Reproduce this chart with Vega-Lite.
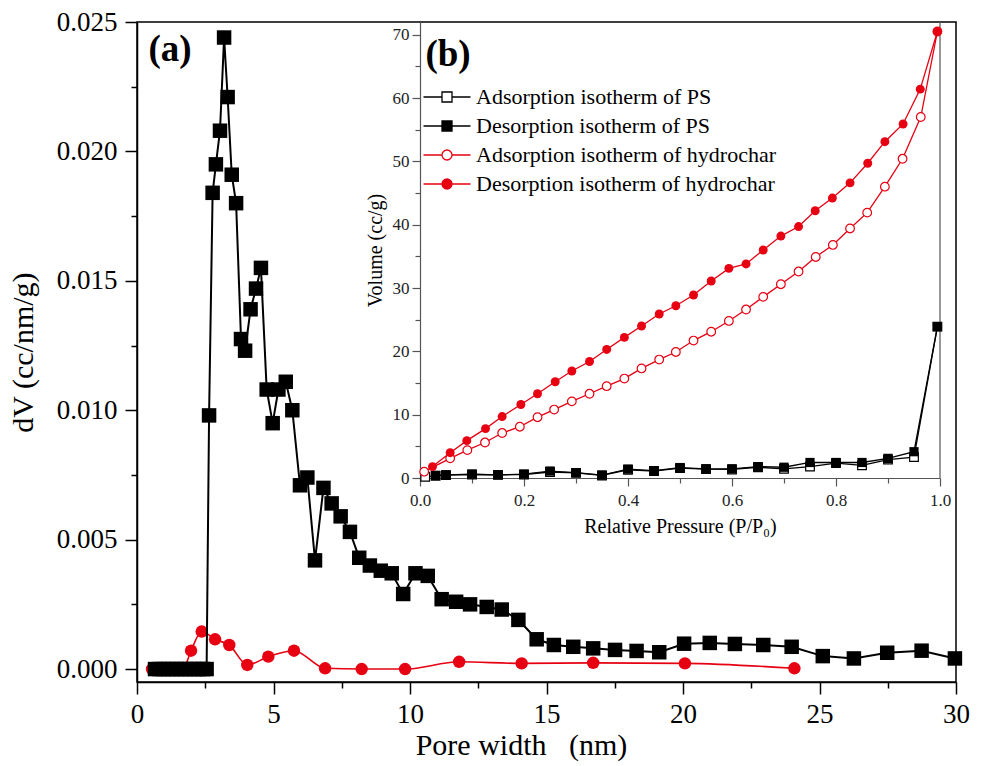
{
  "$schema": "https://vega.github.io/schema/vega-lite/v6.json",
  "width": 819,
  "height": 660,
  "autosize": {"type": "none"},
  "padding": {"left": 137, "top": 22, "right": 28, "bottom": 84},
  "background": "white",
  "config": {
    "font": "Liberation Serif",
    "text": {"font": "Liberation Serif"},
    "view": {"stroke": "black", "strokeWidth": 1.5},
    "axis": {"grid": false, "domainColor": "black", "tickColor": "black", "labelColor": "black", "titleColor": "black", "titleFontWeight": "normal", "labelFont": "Liberation Serif", "titleFont": "Liberation Serif", "labelOverlap": false, "labelFlush": false},
    "legend": {"labelFont": "Liberation Serif", "titleFont": "Liberation Serif"}
  },
  "datasets": {
    "psd_ps": [
      {"width": 0.66, "dV": 0}, {"width": 0.82, "dV": 0}, {"width": 0.98, "dV": 0}, {"width": 1.14, "dV": 0},
      {"width": 1.3, "dV": 0}, {"width": 1.46, "dV": 0}, {"width": 1.62, "dV": 0}, {"width": 1.78, "dV": 0},
      {"width": 1.94, "dV": 0}, {"width": 2.1, "dV": 0}, {"width": 2.26, "dV": 0}, {"width": 2.42, "dV": 0},
      {"width": 2.55, "dV": 0},
      {"width": 2.64, "dV": 0.0098}, {"width": 2.77, "dV": 0.0184}, {"width": 2.89, "dV": 0.0195},
      {"width": 3.04, "dV": 0.0208}, {"width": 3.19, "dV": 0.0244}, {"width": 3.32, "dV": 0.0221},
      {"width": 3.47, "dV": 0.0191}, {"width": 3.63, "dV": 0.018}, {"width": 3.81, "dV": 0.01275},
      {"width": 3.96, "dV": 0.0123}, {"width": 4.16, "dV": 0.0139}, {"width": 4.36, "dV": 0.0147},
      {"width": 4.54, "dV": 0.0155}, {"width": 4.75, "dV": 0.0108}, {"width": 4.97, "dV": 0.0095},
      {"width": 5.18, "dV": 0.0108}, {"width": 5.45, "dV": 0.0111}, {"width": 5.69, "dV": 0.01},
      {"width": 5.97, "dV": 0.0071}, {"width": 6.24, "dV": 0.0074}, {"width": 6.52, "dV": 0.0042},
      {"width": 6.83, "dV": 0.007}, {"width": 7.13, "dV": 0.0064}, {"width": 7.46, "dV": 0.0059},
      {"width": 7.8, "dV": 0.0053}, {"width": 8.14, "dV": 0.0043}, {"width": 8.53, "dV": 0.004},
      {"width": 8.93, "dV": 0.0038}, {"width": 9.33, "dV": 0.0037}, {"width": 9.75, "dV": 0.0029},
      {"width": 10.2, "dV": 0.0037}, {"width": 10.65, "dV": 0.0036}, {"width": 11.16, "dV": 0.0027},
      {"width": 11.69, "dV": 0.0026}, {"width": 12.2, "dV": 0.0025}, {"width": 12.81, "dV": 0.0024},
      {"width": 13.36, "dV": 0.0023}, {"width": 13.97, "dV": 0.0019}, {"width": 14.64, "dV": 0.00115},
      {"width": 15.27, "dV": 0.00093}, {"width": 15.98, "dV": 0.00086}, {"width": 16.71, "dV": 0.0008},
      {"width": 17.51, "dV": 0.00074}, {"width": 18.3, "dV": 0.0007}, {"width": 19.13, "dV": 0.00065},
      {"width": 20.04, "dV": 0.00098}, {"width": 20.98, "dV": 0.00101}, {"width": 21.9, "dV": 0.00097},
      {"width": 22.94, "dV": 0.00093}, {"width": 23.98, "dV": 0.00086}, {"width": 25.12, "dV": 0.0005},
      {"width": 26.26, "dV": 0.00041}, {"width": 27.48, "dV": 0.00063}, {"width": 28.74, "dV": 0.00071},
      {"width": 29.96, "dV": 0.00041}
    ],
    "psd_hc": [
      {"width": 0.55, "dV": 0}, {"width": 0.85, "dV": 0}, {"width": 1.15, "dV": 0}, {"width": 1.45, "dV": 0},
      {"width": 1.7, "dV": 0.00003}, {"width": 1.98, "dV": 0.00071}, {"width": 2.37, "dV": 0.00145},
      {"width": 2.86, "dV": 0.00115}, {"width": 3.38, "dV": 0.00093}, {"width": 4.04, "dV": 0.00016},
      {"width": 4.81, "dV": 0.00048}, {"width": 5.75, "dV": 0.00071}, {"width": 6.89, "dV": 0.00003},
      {"width": 8.23, "dV": 0}, {"width": 9.82, "dV": 0}, {"width": 11.8, "dV": 0.00028},
      {"width": 14.09, "dV": 0.00022}, {"width": 16.71, "dV": 0.00024}, {"width": 20.07, "dV": 0.00022},
      {"width": 24.08, "dV": 0.00003}
    ],
    "labels": [
      {"panel": "a", "label": "(a)", "x": 1.21, "y": 0.0239},
      {"panel": "b", "label": "(b)", "x": 0.054, "y": 66.8}
    ],
    "iso": [
      {"series": "Adsorption isotherm of PS", "p": 0.01, "v": 0.2},
      {"series": "Adsorption isotherm of PS", "p": 0.03, "v": 0.35},
      {"series": "Adsorption isotherm of PS", "p": 0.05, "v": 0.45},
      {"series": "Adsorption isotherm of PS", "p": 0.1, "v": 0.55},
      {"series": "Adsorption isotherm of PS", "p": 0.15, "v": 0.5},
      {"series": "Adsorption isotherm of PS", "p": 0.2, "v": 0.55},
      {"series": "Adsorption isotherm of PS", "p": 0.25, "v": 0.95},
      {"series": "Adsorption isotherm of PS", "p": 0.3, "v": 0.8},
      {"series": "Adsorption isotherm of PS", "p": 0.35, "v": 0.4},
      {"series": "Adsorption isotherm of PS", "p": 0.4, "v": 1.3},
      {"series": "Adsorption isotherm of PS", "p": 0.45, "v": 1.1},
      {"series": "Adsorption isotherm of PS", "p": 0.5, "v": 1.55},
      {"series": "Adsorption isotherm of PS", "p": 0.55, "v": 1.4},
      {"series": "Adsorption isotherm of PS", "p": 0.6, "v": 1.35},
      {"series": "Adsorption isotherm of PS", "p": 0.65, "v": 1.7},
      {"series": "Adsorption isotherm of PS", "p": 0.7, "v": 1.45},
      {"series": "Adsorption isotherm of PS", "p": 0.75, "v": 1.8},
      {"series": "Adsorption isotherm of PS", "p": 0.8, "v": 2.35},
      {"series": "Adsorption isotherm of PS", "p": 0.85, "v": 2.0},
      {"series": "Adsorption isotherm of PS", "p": 0.9, "v": 2.9},
      {"series": "Adsorption isotherm of PS", "p": 0.95, "v": 3.3},
      {"series": "Adsorption isotherm of PS", "p": 0.995, "v": 23.9},
      {"series": "Desorption isotherm of PS", "p": 0.995, "v": 23.9},
      {"series": "Desorption isotherm of PS", "p": 0.95, "v": 4.15},
      {"series": "Desorption isotherm of PS", "p": 0.9, "v": 3.1},
      {"series": "Desorption isotherm of PS", "p": 0.85, "v": 2.45},
      {"series": "Desorption isotherm of PS", "p": 0.8, "v": 2.45},
      {"series": "Desorption isotherm of PS", "p": 0.75, "v": 2.45},
      {"series": "Desorption isotherm of PS", "p": 0.7, "v": 1.7},
      {"series": "Desorption isotherm of PS", "p": 0.65, "v": 1.8},
      {"series": "Desorption isotherm of PS", "p": 0.6, "v": 1.45},
      {"series": "Desorption isotherm of PS", "p": 0.55, "v": 1.45},
      {"series": "Desorption isotherm of PS", "p": 0.5, "v": 1.65},
      {"series": "Desorption isotherm of PS", "p": 0.45, "v": 1.15},
      {"series": "Desorption isotherm of PS", "p": 0.4, "v": 1.4},
      {"series": "Desorption isotherm of PS", "p": 0.35, "v": 0.45},
      {"series": "Desorption isotherm of PS", "p": 0.3, "v": 0.85},
      {"series": "Desorption isotherm of PS", "p": 0.25, "v": 1.1},
      {"series": "Desorption isotherm of PS", "p": 0.2, "v": 0.6},
      {"series": "Desorption isotherm of PS", "p": 0.15, "v": 0.5},
      {"series": "Desorption isotherm of PS", "p": 0.1, "v": 0.6},
      {"series": "Desorption isotherm of PS", "p": 0.05, "v": 0.5},
      {"series": "Desorption isotherm of PS", "p": 0.03, "v": 0.4},
      {"series": "Adsorption isotherm of hydrochar", "p": 0.008, "v": 1.0},
      {"series": "Adsorption isotherm of hydrochar", "p": 0.058, "v": 3.1},
      {"series": "Adsorption isotherm of hydrochar", "p": 0.091, "v": 4.4},
      {"series": "Adsorption isotherm of hydrochar", "p": 0.125, "v": 5.6},
      {"series": "Adsorption isotherm of hydrochar", "p": 0.158, "v": 7.1},
      {"series": "Adsorption isotherm of hydrochar", "p": 0.192, "v": 8.1},
      {"series": "Adsorption isotherm of hydrochar", "p": 0.226, "v": 9.6},
      {"series": "Adsorption isotherm of hydrochar", "p": 0.258, "v": 10.8},
      {"series": "Adsorption isotherm of hydrochar", "p": 0.292, "v": 12.1},
      {"series": "Adsorption isotherm of hydrochar", "p": 0.326, "v": 13.3},
      {"series": "Adsorption isotherm of hydrochar", "p": 0.359, "v": 14.5},
      {"series": "Adsorption isotherm of hydrochar", "p": 0.393, "v": 15.7},
      {"series": "Adsorption isotherm of hydrochar", "p": 0.426, "v": 17.3},
      {"series": "Adsorption isotherm of hydrochar", "p": 0.46, "v": 18.7},
      {"series": "Adsorption isotherm of hydrochar", "p": 0.492, "v": 19.9},
      {"series": "Adsorption isotherm of hydrochar", "p": 0.526, "v": 21.7},
      {"series": "Adsorption isotherm of hydrochar", "p": 0.56, "v": 23.1},
      {"series": "Adsorption isotherm of hydrochar", "p": 0.594, "v": 24.8},
      {"series": "Adsorption isotherm of hydrochar", "p": 0.627, "v": 26.6},
      {"series": "Adsorption isotherm of hydrochar", "p": 0.66, "v": 28.6},
      {"series": "Adsorption isotherm of hydrochar", "p": 0.694, "v": 30.6},
      {"series": "Adsorption isotherm of hydrochar", "p": 0.728, "v": 32.6},
      {"series": "Adsorption isotherm of hydrochar", "p": 0.761, "v": 34.9},
      {"series": "Adsorption isotherm of hydrochar", "p": 0.794, "v": 36.8},
      {"series": "Adsorption isotherm of hydrochar", "p": 0.827, "v": 39.4},
      {"series": "Adsorption isotherm of hydrochar", "p": 0.86, "v": 41.9},
      {"series": "Adsorption isotherm of hydrochar", "p": 0.894, "v": 46.0},
      {"series": "Adsorption isotherm of hydrochar", "p": 0.928, "v": 50.4},
      {"series": "Adsorption isotherm of hydrochar", "p": 0.963, "v": 57.0},
      {"series": "Adsorption isotherm of hydrochar", "p": 0.995, "v": 70.5},
      {"series": "Desorption isotherm of hydrochar", "p": 0.995, "v": 70.5},
      {"series": "Desorption isotherm of hydrochar", "p": 0.962, "v": 61.4},
      {"series": "Desorption isotherm of hydrochar", "p": 0.929, "v": 55.9},
      {"series": "Desorption isotherm of hydrochar", "p": 0.894, "v": 53.1},
      {"series": "Desorption isotherm of hydrochar", "p": 0.861, "v": 49.7},
      {"series": "Desorption isotherm of hydrochar", "p": 0.827, "v": 46.6},
      {"series": "Desorption isotherm of hydrochar", "p": 0.793, "v": 44.2},
      {"series": "Desorption isotherm of hydrochar", "p": 0.76, "v": 42.2},
      {"series": "Desorption isotherm of hydrochar", "p": 0.728, "v": 39.7},
      {"series": "Desorption isotherm of hydrochar", "p": 0.694, "v": 38.2},
      {"series": "Desorption isotherm of hydrochar", "p": 0.66, "v": 36.0},
      {"series": "Desorption isotherm of hydrochar", "p": 0.627, "v": 33.8},
      {"series": "Desorption isotherm of hydrochar", "p": 0.594, "v": 33.1},
      {"series": "Desorption isotherm of hydrochar", "p": 0.56, "v": 31.1},
      {"series": "Desorption isotherm of hydrochar", "p": 0.526, "v": 28.9},
      {"series": "Desorption isotherm of hydrochar", "p": 0.492, "v": 27.2},
      {"series": "Desorption isotherm of hydrochar", "p": 0.46, "v": 25.9},
      {"series": "Desorption isotherm of hydrochar", "p": 0.426, "v": 24.0},
      {"series": "Desorption isotherm of hydrochar", "p": 0.393, "v": 22.2},
      {"series": "Desorption isotherm of hydrochar", "p": 0.359, "v": 20.3},
      {"series": "Desorption isotherm of hydrochar", "p": 0.326, "v": 18.4},
      {"series": "Desorption isotherm of hydrochar", "p": 0.292, "v": 16.9},
      {"series": "Desorption isotherm of hydrochar", "p": 0.26, "v": 15.2},
      {"series": "Desorption isotherm of hydrochar", "p": 0.226, "v": 13.3},
      {"series": "Desorption isotherm of hydrochar", "p": 0.194, "v": 11.6},
      {"series": "Desorption isotherm of hydrochar", "p": 0.158, "v": 9.7},
      {"series": "Desorption isotherm of hydrochar", "p": 0.126, "v": 7.8},
      {"series": "Desorption isotherm of hydrochar", "p": 0.09, "v": 5.9},
      {"series": "Desorption isotherm of hydrochar", "p": 0.058, "v": 4.0},
      {"series": "Desorption isotherm of hydrochar", "p": 0.024, "v": 1.8}
    ]
  },
  "resolve": {"scale": {"x": "independent", "y": "independent"}},
  "layer": [
    {
      "layer": [
        {"data": {"name": "psd_hc"}, "mark": {"type": "line", "color": "#e60012", "strokeWidth": 1.6, "interpolate": "monotone"},
          "encoding": {
            "x": {"field": "width", "type": "quantitative", "scale": {"domain": [0, 30], "nice": false, "zero": false},
              "axis": {"orient": "bottom", "values": [0, 5, 10, 15, 20, 25, 30], "title": "Pore width\u00a0\u00a0 (nm)", "titleFontSize": 30, "titleX": 384, "titleY": 72, "titleBaseline": "alphabetic", "titleAlign": "center", "labelFontSize": 27, "tickSize": 12, "tickWidth": 1.5, "domainWidth": 1.5, "labelPadding": 7}},
            "y": {"field": "dV", "type": "quantitative", "scale": {"domain": [-0.0005, 0.025], "nice": false, "zero": false},
              "axis": {"orient": "left", "values": [0, 0.005, 0.01, 0.015, 0.02, 0.025], "format": ".3f", "title": "dV (cc/nm/g)", "titleFontSize": 30, "titleX": -99, "titleBaseline": "bottom", "titleAlign": "center", "labelFontSize": 27, "tickSize": 12, "tickWidth": 1.5, "domainWidth": 1.5, "labelPadding": 8}}
          }},
        {"data": {"name": "psd_hc"}, "mark": {"type": "circle", "color": "#e60012", "size": 155, "opacity": 1},
          "encoding": {"x": {"field": "width", "type": "quantitative"}, "y": {"field": "dV", "type": "quantitative"}}},
        {"data": {"name": "psd_ps"}, "mark": {"type": "line", "color": "black", "strokeWidth": 2},
          "encoding": {"x": {"field": "width", "type": "quantitative"}, "y": {"field": "dV", "type": "quantitative"}}},
        {"data": {"name": "psd_ps"}, "mark": {"type": "square", "color": "black", "size": 210, "opacity": 1},
          "encoding": {"x": {"field": "width", "type": "quantitative"}, "y": {"field": "dV", "type": "quantitative"}}},
        {"data": {"name": "labels"}, "transform": [{"filter": "datum.panel == 'a'"}, {"calculate": "datum.x", "as": "width"}, {"calculate": "datum.y", "as": "dV"}],
          "mark": {"type": "text", "font": "Liberation Serif", "fontSize": 37, "fontWeight": "bold", "align": "center", "baseline": "middle", "color": "black"},
          "encoding": {"x": {"field": "width", "type": "quantitative"}, "y": {"field": "dV", "type": "quantitative"}, "text": {"field": "label"}}}
      ]
    },
    {
      "data": {"name": "psd_ps"},
      "mark": {"type": "point", "opacity": 0},
      "encoding": {
        "x": {"field": "width", "type": "quantitative", "scale": {"domain": [0, 30], "nice": false, "zero": false},
          "axis": {"orient": "bottom", "values": [2.5, 7.5, 12.5, 17.5, 22.5, 27.5], "labels": false, "domain": false, "title": null, "tickSize": 6, "tickWidth": 1.5}},
        "y": {"field": "dV", "type": "quantitative", "scale": {"domain": [-0.0005, 0.025], "nice": false, "zero": false},
          "axis": {"orient": "left", "values": [0.0025, 0.0075, 0.0125, 0.0175, 0.0225], "labels": false, "domain": false, "title": null, "tickSize": 6, "tickWidth": 1.5}}
      }
    },
    {
      "layer": [
        {"data": {"values": [{}]}, "mark": {"type": "rule", "color": "#555555", "strokeWidth": 1.2},
          "encoding": {
            "x": {"datum": 1, "type": "quantitative", "scale": {"domain": [0, 1], "range": [283, 803], "nice": false, "zero": false},
              "axis": {"orient": "bottom", "offset": -204, "values": [0, 0.2, 0.4, 0.6, 0.8, 1.0], "format": ".1f", "title": "Relative Pressure (P/P₀)", "titleFontSize": 20, "titleX": 543, "titleY": 54, "titleBaseline": "alphabetic", "titleAlign": "center", "labelFontSize": 17, "tickSize": 8, "tickWidth": 1.2, "domainWidth": 1.2, "domainColor": "#555555", "tickColor": "#555555", "labelColor": "#222222", "labelPadding": 6}},
            "y": {"datum": 0, "type": "quantitative", "scale": {"domain": [0, 72], "range": [456, 0], "nice": false, "zero": false},
              "axis": {"orient": "left", "offset": -283, "values": [0, 10, 20, 30, 40, 50, 60, 70], "title": "Volume (cc/g)", "titleFontSize": 20, "titleX": -35, "titleBaseline": "bottom", "titleAlign": "center", "labelFontSize": 17, "tickSize": 8, "tickWidth": 1.2, "domainWidth": 1.2, "domainColor": "#555555", "tickColor": "#555555", "labelColor": "#222222", "labelPadding": 3}},
            "y2": {"datum": 72}
          }},
        {"data": {"name": "iso"}, "transform": [{"filter": "datum.series == 'Adsorption isotherm of PS'"}], "mark": {"type": "line", "color": "black", "strokeWidth": 1.3},
          "encoding": {"x": {"field": "p", "type": "quantitative"}, "y": {"field": "v", "type": "quantitative"}}},
        {"data": {"name": "iso"}, "transform": [{"filter": "datum.series == 'Adsorption isotherm of PS'"}], "mark": {"type": "point", "shape": "square", "filled": true, "fill": "white", "stroke": "black", "strokeWidth": 1.2, "size": 75, "opacity": 1},
          "encoding": {"x": {"field": "p", "type": "quantitative"}, "y": {"field": "v", "type": "quantitative"}}},
        {"data": {"name": "iso"}, "transform": [{"filter": "datum.series == 'Desorption isotherm of PS'"}], "mark": {"type": "line", "color": "black", "strokeWidth": 1.3},
          "encoding": {"x": {"field": "p", "type": "quantitative"}, "y": {"field": "v", "type": "quantitative"}}},
        {"data": {"name": "iso"}, "transform": [{"filter": "datum.series == 'Desorption isotherm of PS'"}], "mark": {"type": "square", "color": "black", "size": 85, "opacity": 1},
          "encoding": {"x": {"field": "p", "type": "quantitative"}, "y": {"field": "v", "type": "quantitative"}}},
        {"data": {"name": "iso"}, "transform": [{"filter": "datum.series == 'Adsorption isotherm of hydrochar'"}], "mark": {"type": "line", "color": "#e60012", "strokeWidth": 1.3},
          "encoding": {"x": {"field": "p", "type": "quantitative"}, "y": {"field": "v", "type": "quantitative"}}},
        {"data": {"name": "iso"}, "transform": [{"filter": "datum.series == 'Adsorption isotherm of hydrochar'"}], "mark": {"type": "point", "shape": "circle", "filled": true, "fill": "white", "stroke": "#e60012", "strokeWidth": 1.2, "size": 75, "opacity": 1},
          "encoding": {"x": {"field": "p", "type": "quantitative"}, "y": {"field": "v", "type": "quantitative"}}},
        {"data": {"name": "iso"}, "transform": [{"filter": "datum.series == 'Desorption isotherm of hydrochar'"}], "mark": {"type": "line", "color": "#e60012", "strokeWidth": 1.3},
          "encoding": {"x": {"field": "p", "type": "quantitative"}, "y": {"field": "v", "type": "quantitative"}}},
        {"data": {"name": "iso"}, "transform": [{"filter": "datum.series == 'Desorption isotherm of hydrochar'"}], "mark": {"type": "circle", "color": "#e60012", "size": 80, "opacity": 1},
          "encoding": {"x": {"field": "p", "type": "quantitative"}, "y": {"field": "v", "type": "quantitative"}}},
        {"data": {"name": "iso"}, "transform": [{"filter": "false"}],
          "mark": {"type": "point", "filled": true, "size": 100, "strokeWidth": 1.3},
          "encoding": {
            "x": {"field": "p", "type": "quantitative"}, "y": {"field": "v", "type": "quantitative"},
            "shape": {"field": "series", "type": "nominal",
              "scale": {"domain": ["Adsorption isotherm of PS", "Desorption isotherm of PS", "Adsorption isotherm of hydrochar", "Desorption isotherm of hydrochar"],
                "range": ["M-4.7,0H-1M1,0H4.7M-1,-1H1V1H-1Z", "M-4.7,0H-1M1,0H4.7M-1,-1H1V1H-1Z", "M-4.7,0H-1M1,0H4.7M1,0A1,1,0,1,1,-1,0A1,1,0,1,1,1,0Z", "M-4.7,0H-1M1,0H4.7M1,0A1,1,0,1,1,-1,0A1,1,0,1,1,1,0Z"]},
              "legend": {"orient": "none", "legendX": 299, "legendY": 64, "title": null, "labelFontSize": 22, "labelFont": "Liberation Serif", "labelColor": "black", "labelLimit": 500, "labelOffset": 18, "rowPadding": 7, "padding": 0, "symbolSize": 100, "symbolStrokeWidth": 1.3, "symbolOpacity": 1}},
            "fill": {"field": "series", "type": "nominal",
              "scale": {"domain": ["Adsorption isotherm of PS", "Desorption isotherm of PS", "Adsorption isotherm of hydrochar", "Desorption isotherm of hydrochar"], "range": ["white", "black", "white", "#e60012"]},
              "legend": {"orient": "none", "legendX": 299, "legendY": 64, "title": null, "labelFontSize": 22, "labelFont": "Liberation Serif", "labelColor": "black", "labelLimit": 500, "labelOffset": 18, "rowPadding": 7, "padding": 0, "symbolSize": 100, "symbolStrokeWidth": 1.3, "symbolOpacity": 1}},
            "stroke": {"field": "series", "type": "nominal",
              "scale": {"domain": ["Adsorption isotherm of PS", "Desorption isotherm of PS", "Adsorption isotherm of hydrochar", "Desorption isotherm of hydrochar"], "range": ["black", "black", "#e60012", "#e60012"]},
              "legend": {"orient": "none", "legendX": 299, "legendY": 64, "title": null, "labelFontSize": 22, "labelFont": "Liberation Serif", "labelColor": "black", "labelLimit": 500, "labelOffset": 18, "rowPadding": 7, "padding": 0, "symbolSize": 100, "symbolStrokeWidth": 1.3, "symbolOpacity": 1}}
          }},
        {"data": {"name": "labels"}, "transform": [{"filter": "datum.panel == 'b'"}, {"calculate": "datum.x", "as": "p"}, {"calculate": "datum.y", "as": "v"}],
          "mark": {"type": "text", "font": "Liberation Serif", "fontSize": 37, "fontWeight": "bold", "align": "center", "baseline": "middle", "color": "black"},
          "encoding": {"x": {"field": "p", "type": "quantitative"}, "y": {"field": "v", "type": "quantitative"}, "text": {"field": "label"}}}
      ]
    },
    {
      "data": {"name": "iso"},
      "mark": {"type": "point", "opacity": 0},
      "encoding": {
        "x": {"field": "p", "type": "quantitative", "scale": {"domain": [0, 1], "range": [283, 803], "nice": false, "zero": false},
          "axis": {"orient": "bottom", "offset": -204, "values": [0.1, 0.3, 0.5, 0.7, 0.9], "labels": false, "domain": false, "title": null, "tickSize": 5, "tickWidth": 1.2, "tickColor": "#555555"}},
        "y": {"field": "v", "type": "quantitative", "scale": {"domain": [0, 72], "range": [456, 0], "nice": false, "zero": false},
          "axis": {"orient": "left", "offset": -283, "values": [5, 15, 25, 35, 45, 55, 65], "labels": false, "domain": false, "title": null, "tickSize": 5, "tickWidth": 1.2, "tickColor": "#555555"}}
      }
    }
  ]
}
